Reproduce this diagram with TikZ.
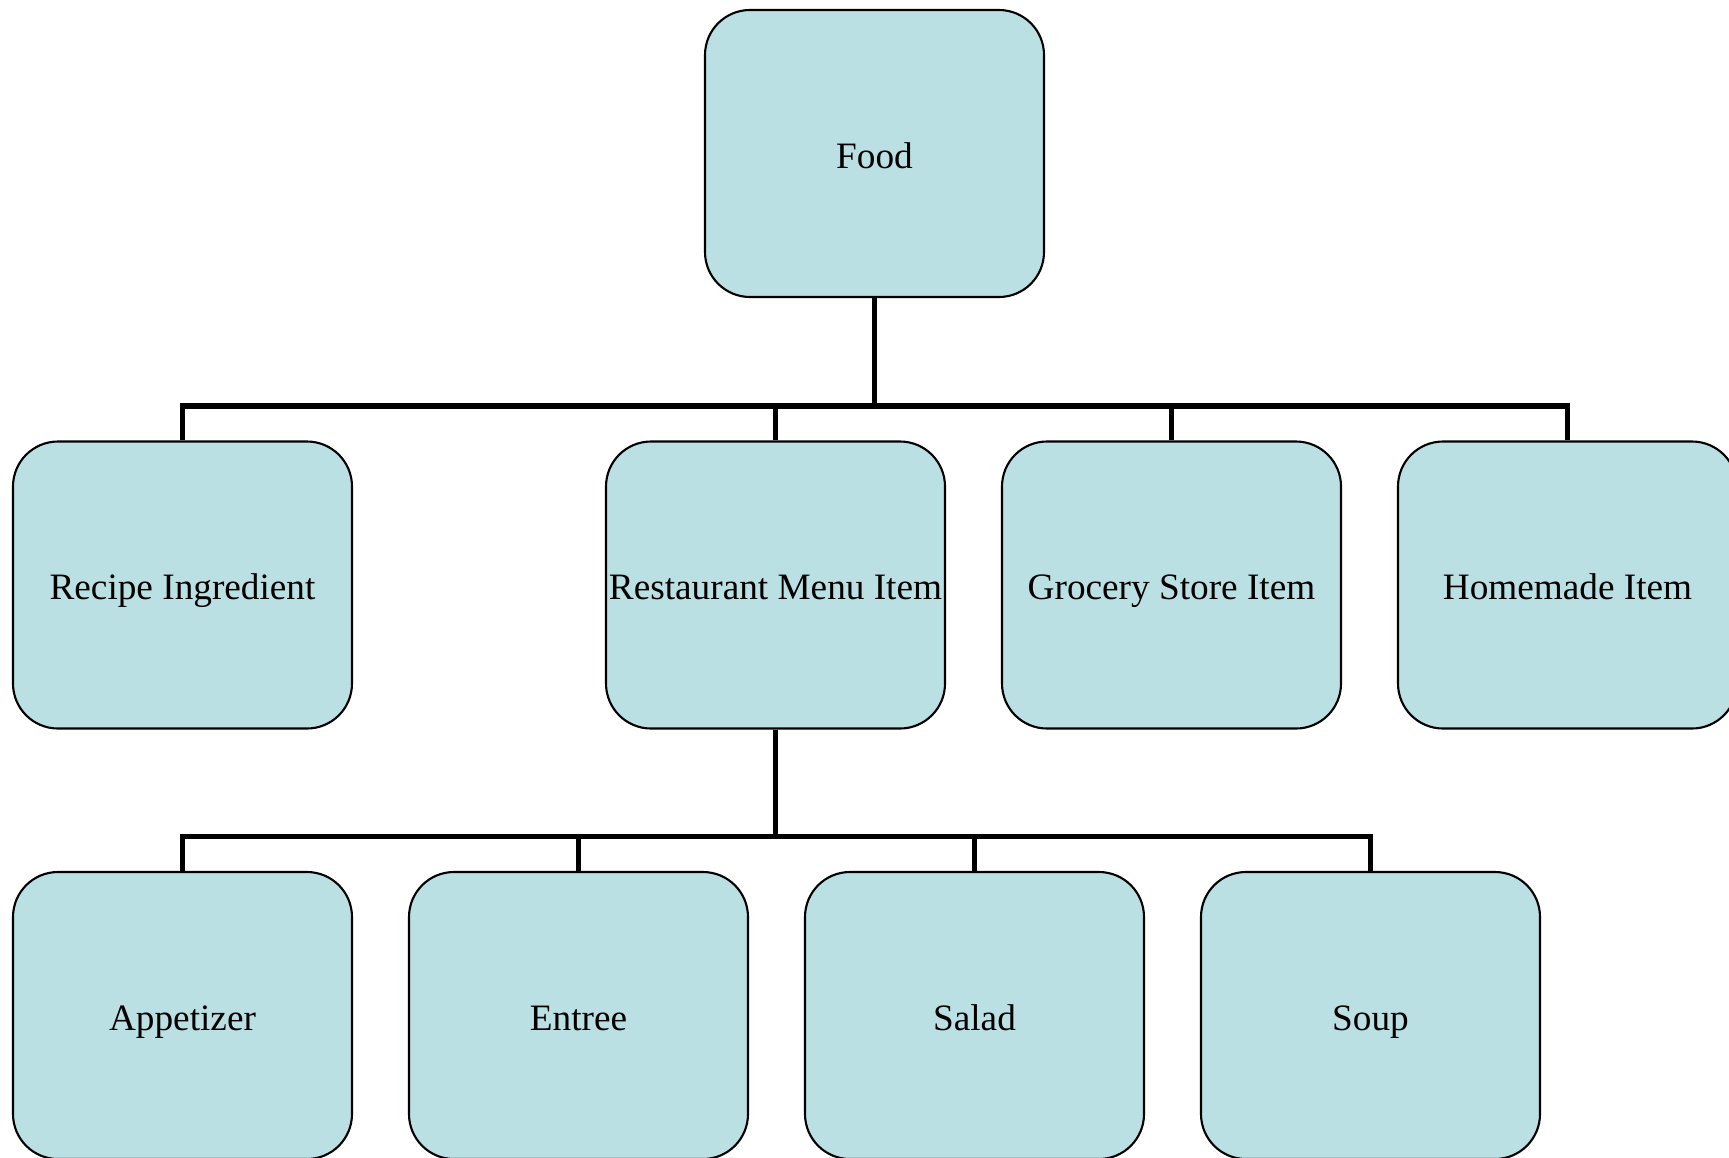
\documentclass[tikz,border=0pt]{standalone}
\usepackage{fontspec}
\setmainfont{Liberation Serif}
\definecolor{boxfill}{HTML}{BBE0E3}

\begin{document}
\begin{tikzpicture}[node distance={39.6mm},
	main/.style = {draw, line width=0.6pt, fill=boxfill, rounded corners=4.5mm, minimum width=33.9mm, minimum height=28.7mm, inner sep=0pt, text height=0.85em, text depth=0pt, align=center, font=\fontsize{10.6}{12}\selectfont},
	bus/.style = {line width=1.5pt, line join=miter}]
	\useasboundingbox (0,0) rectangle (17.29,-11.57);

	%% Nodes
	\node[main] (1) at (8.745,-1.535) {Food};

	\node[main] (2) at (1.825,-5.85) {Recipe Ingredient};
	\node[main] (3) at (7.755,-5.85) {Restaurant Menu Item};
	\node[main][right of=3] (4) {Grocery Store Item};
	\node[main][right of=4] (5) {Homemade Item};

	\node[main][node distance={43.05mm}, below of=2] (6) {Appetizer};
	\node[main][right of=6] (7) {Entree};
	\node[main][right of=7] (8) {Salad};
	\node[main][right of=8] (9) {Soup};

	%% Edges
	\draw[bus] (1.south) -- ++(0,-1.08) coordinate (b1);
	\draw[bus] (b1) -| (2.north);
	\draw[bus] (b1) -| (3.north);
	\draw[bus] (b1) -| (4.north);
	\draw[bus] (b1) -| (5.north);

	\draw[bus] (3.south) -- ++(0,-1.07) coordinate (b2);
	\draw[bus] (b2) -| (6.north);
	\draw[bus] (b2) -| (7.north);
	\draw[bus] (b2) -| (8.north);
	\draw[bus] (b2) -| (9.north);

\end{tikzpicture}
\end{document}
